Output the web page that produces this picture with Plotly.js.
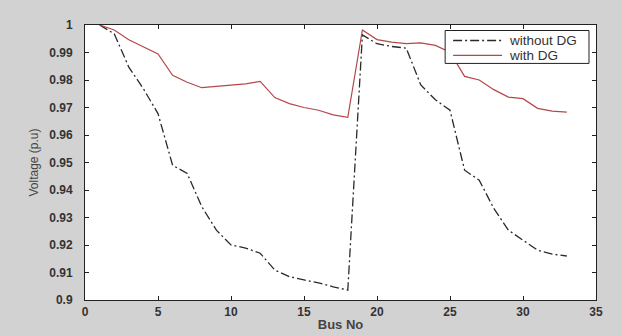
<!DOCTYPE html>
<html><head><meta charset="utf-8">
<script src="https://cdn.plot.ly/plotly-3.0.1.min.js"></script>
<style>html,body{margin:0;padding:0;background:#d2d2d2;}#c{width:622px;height:336px;}</style>
</head><body><div id="c"></div>
<script>
const busNo = [1,2,3,4,5,6,7,8,9,10,11,12,13,14,15,16,17,18,19,20,21,22,23,24,25,26,27,28,29,30,31,32,33];
const withoutDG = [1.0000,0.9968,0.9847,0.9768,0.9678,0.9490,0.9460,0.9339,0.9254,0.9200,0.9189,0.9170,0.9109,0.9085,0.9073,0.9062,0.9048,0.9036,
  0.9964,0.9932,0.9922,0.9916,0.9782,0.9728,0.9690,0.9472,0.9436,0.9333,0.9254,0.9218,0.9181,0.9167,0.9160];
const withDG = [1.0000,0.9982,0.9946,0.9920,0.9895,0.9817,0.9792,0.9772,0.9777,0.9783,0.9786,0.9795,0.9736,0.9714,0.9700,0.9690,0.9673,0.9664,
  0.9982,0.9947,0.9938,0.9932,0.9935,0.9926,0.9901,0.9813,0.9800,0.9765,0.9738,0.9732,0.9697,0.9687,0.9683];
const seriesNames = ['without DG','with DG'];
const xTicks = [0,5,10,15,20,25,30,35];
const yTicks = [0.9,0.91,0.92,0.93,0.94,0.95,0.96,0.97,0.98,0.99,1];
const yTickText = ['0.9','0.91','0.92','0.93','0.94','0.95','0.96','0.97','0.98','0.99','1'];

const colors = ['#2a2a2a', '#b5474a'];
const dashes = ['9px,3px,2px,3px', 'solid'];
const widths = [1.3, 1.2];

const traces = [
  {x: busNo, y: withoutDG, name: seriesNames[0], mode:'lines', line:{color:colors[0], width:widths[0], dash:dashes[0]}},
  {x: busNo, y: withDG, name: seriesNames[1], mode:'lines', line:{color:colors[1], width:widths[1], dash:dashes[1]}}
];
const FF = 'Liberation Sans, Arial, sans-serif';
const tickFont = {family:FF, size:12, color:'#333', weight:'bold'};
const axisCommon = {showgrid:false, zeroline:false, showline:true, linecolor:'#222', linewidth:1, mirror:'ticks',
  ticks:'inside', ticklen:4, tickcolor:'#222', tickfont:tickFont};

// legend box (drawn as layout decoration, paper coordinates)
const lg = {x0:0.7048, x1:0.9863, y0:0.8603, y1:0.980, sx0:0.7204, sx1:0.8162, tx:0.8260, rows:[0.9437, 0.8893]};
const shapes = [{type:'rect', xref:'paper', yref:'paper', x0:lg.x0, x1:lg.x1, y0:lg.y0, y1:lg.y1,
  fillcolor:'#ffffff', line:{color:'#222', width:1}, layer:'above'}];
const annotations = [];
seriesNames.forEach((n, i) => {
  shapes.push({type:'line', xref:'paper', yref:'paper', x0:lg.sx0, x1:lg.sx1, y0:lg.rows[i], y1:lg.rows[i],
    line:{color:colors[i], width:widths[i], dash:dashes[i]}, layer:'above'});
  annotations.push({xref:'paper', yref:'paper', x:lg.tx, y:lg.rows[i], xanchor:'left', yanchor:'middle',
    text:n, showarrow:false, font:{family:FF, size:13.5, color:'#333'}});
});

const layout = {
  width:622, height:336,
  paper_bgcolor:'#d2d2d2', plot_bgcolor:'#ffffff',
  margin:{l:84.5, r:26, t:24.5, b:36},
  showlegend:false,
  shapes: shapes, annotations: annotations,
  xaxis: Object.assign({}, axisCommon, {range:[0,35], tickvals:xTicks, ticktext:xTicks.map(String), ticklabelstandoff:1,
    title:{text:'Bus No', font:{family:FF, size:13, color:'#444', weight:'bold'}, standoff:1}}),
  yaxis: Object.assign({}, axisCommon, {range:[0.9,1], tickvals:yTicks, ticktext:yTickText, ticklabelstandoff:9,
    title:{text:'Voltage (p.u)', font:{family:FF, size:12, color:'#444'}, standoff:8}})
};
Plotly.newPlot('c', traces, layout, {staticPlot:true, displayModeBar:false});
</script></body></html>
